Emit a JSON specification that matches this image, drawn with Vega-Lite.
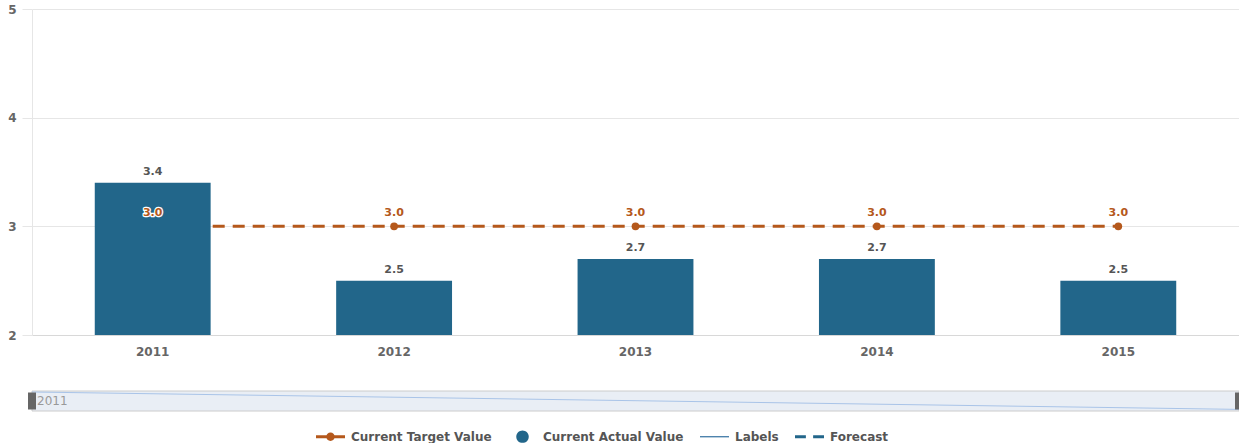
{
  "$schema": "https://vega.github.io/schema/vega-lite/v6.json",
  "padding": {"left": 0, "top": 3, "right": 0, "bottom": 0},
  "autosize": {"type": "pad"},
  "background": "white",
  "spacing": 33,
  "config": {
    "view": {"stroke": null},
    "font": "DejaVu Sans",
    "legend": {
      "orient": "none",
      "legendX": 284,
      "legendY": 413,
      "direction": "horizontal",
      "title": null,
      "symbolSize": 841,
      "symbolStrokeWidth": 0,
      "symbolOpacity": 1,
      "labelFont": "DejaVu Sans",
      "labelFontSize": 12,
      "labelFontWeight": "bold",
      "labelColor": "#555555",
      "labelOffset": 6,
      "columnPadding": 16
    }
  },
  "datasets": {
    "main": [
      {"year": "2011", "actual": 3.4, "target": 3.0},
      {"year": "2012", "actual": 2.5, "target": 3.0},
      {"year": "2013", "actual": 2.7, "target": 3.0},
      {"year": "2014", "actual": 2.7, "target": 3.0},
      {"year": "2015", "actual": 2.5, "target": 3.0}
    ],
    "navRange": [{"from": 2011, "to": 2015, "label": "2011"}],
    "navLine": [{"year": 2011, "v": 0.95}, {"year": 2015, "v": 0.08}],
    "navHandles": [{"year": 2011}, {"year": 2015}]
  },
  "vconcat": [
    {
      "width": 1207,
      "height": 326,
      "data": {"name": "main"},
      "encoding": {
        "x": {
          "field": "year",
          "type": "ordinal",
          "scale": {"paddingInner": 0, "paddingOuter": 0},
          "axis": {
            "title": null,
            "labelAngle": 0,
            "ticks": false,
            "domainColor": "#d8d8d8",
            "labelPadding": 11,
            "labelFontSize": 12,
            "labelFontWeight": "bold",
            "labelColor": "#666666"
          }
        }
      },
      "layer": [
        {
          "mark": {"type": "line", "color": "#b5581b", "strokeWidth": 3, "strokeDash": [12, 8]},
          "encoding": {
            "y": {
              "field": "target",
              "type": "quantitative",
              "scale": {"domain": [2, 5], "zero": false},
              "axis": {
                "title": null,
                "values": [2, 3, 4, 5],
                "format": "d",
                "labelFontSize": 12,
                "labelFontWeight": "bold",
                "labelColor": "#666666",
                "labelPadding": 6,
                "tickSize": 10,
                "tickColor": "#e6e6e6",
                "domainColor": "#e6e6e6",
                "gridColor": "#e6e6e6",
                "minExtent": 32,
                "maxExtent": 32
              }
            }
          }
        },
        {
          "mark": {"type": "point", "filled": true, "color": "#b5581b", "size": 60, "opacity": 1},
          "encoding": {"y": {"field": "target", "type": "quantitative"}}
        },
        {
          "mark": {"type": "bar", "color": "#22668a", "width": {"band": 0.48}},
          "encoding": {
            "y": {"field": "actual", "type": "quantitative"},
            "y2": {"datum": 2}
          }
        },
        {
          "mark": {"type": "text", "baseline": "bottom", "dy": -6, "fontSize": 11, "fontWeight": "bold", "color": "#555555"},
          "encoding": {
            "y": {"field": "actual", "type": "quantitative"},
            "text": {"field": "actual", "type": "quantitative", "format": ".1f"}
          }
        },
        {
          "mark": {"type": "text", "baseline": "bottom", "dy": -8, "fontSize": 11, "fontWeight": "bold", "fill": "white", "stroke": "white", "strokeWidth": 2.5, "strokeJoin": "round"},
          "encoding": {
            "y": {"field": "target", "type": "quantitative"},
            "text": {"field": "target", "type": "quantitative", "format": ".1f"}
          }
        },
        {
          "mark": {"type": "text", "baseline": "bottom", "dy": -8, "fontSize": 11, "fontWeight": "bold", "color": "#b5581b"},
          "encoding": {
            "y": {"field": "target", "type": "quantitative"},
            "text": {"field": "target", "type": "quantitative", "format": ".1f"}
          }
        },
        {
          "transform": [{"filter": "false"}],
          "mark": {"type": "point", "filled": true, "opacity": 1},
          "encoding": {
            "color": {
              "field": "series",
              "type": "nominal",
              "scale": {
                "domain": ["Current Target Value", "Current Actual Value", "Labels", "Forecast"],
                "range": ["#b5581b", "#22668a", "#2a6a9c", "#22668a"]
              },
              "legend": {"title": null}
            },
            "shape": {
              "field": "series",
              "type": "nominal",
              "scale": {
                "domain": ["Current Target Value", "Current Actual Value", "Labels", "Forecast"],
                "range": [
                  "M-1,-0.1H1V0.1H-1Z M-0.29,0A0.29,0.29 0 1,1 0.29,0A0.29,0.29 0 1,1 -0.29,0Z",
                  "M-0.43,0A0.43,0.43 0 1,1 0.43,0A0.43,0.43 0 1,1 -0.43,0Z",
                  "M-1,-0.04H1V0.04H-1Z",
                  "M-1,-0.1H-0.25V0.1H-1Z M0.25,-0.1H1V0.1H0.25Z"
                ]
              },
              "legend": {"title": null}
            }
          }
        }
      ]
    },
    {
      "width": 1207,
      "height": 20,
      "layer": [
        {
          "data": {"name": "navRange"},
          "mark": {"type": "rect", "fill": "#e9eef5", "stroke": "#cccccc", "strokeWidth": 1},
          "encoding": {
            "x": {"field": "from", "type": "quantitative", "scale": {"domain": [2011, 2015], "nice": false, "zero": false}, "axis": null},
            "x2": {"field": "to"}
          }
        },
        {
          "data": {"name": "navLine"},
          "mark": {"type": "line", "color": "#a9c4e8", "strokeWidth": 1},
          "encoding": {
            "x": {"field": "year", "type": "quantitative"},
            "y": {"field": "v", "type": "quantitative", "scale": {"domain": [0, 1]}, "axis": null}
          }
        },
        {
          "data": {"name": "navHandles"},
          "mark": {"type": "tick", "orient": "vertical", "color": "#666666", "thickness": 8, "size": 17, "opacity": 1},
          "encoding": {
            "x": {"field": "year", "type": "quantitative"}
          }
        },
        {
          "data": {"name": "navRange"},
          "mark": {"type": "text", "align": "left", "baseline": "middle", "dx": 5, "fontSize": 12, "color": "#999999"},
          "encoding": {
            "x": {"field": "from", "type": "quantitative"},
            "text": {"field": "label", "type": "nominal"}
          }
        }
      ]
    }
  ]
}
